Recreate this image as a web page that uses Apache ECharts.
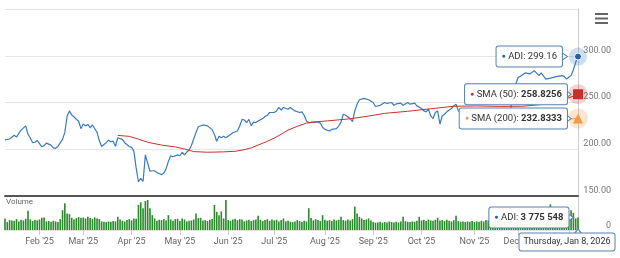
<!DOCTYPE html>
<html><head><meta charset="utf-8">
<script src="https://cdn.jsdelivr.net/npm/echarts@6/dist/echarts.min.js"></script>
<style>html,body{margin:0;padding:0;background:#fff}#c{width:620px;height:258px}</style>
</head><body><div id="c"></div>
<script>
// ---- data ----
const START = '2025-01-10', END = '2026-01-08';
const HOLIDAYS = ['2025-01-20','2025-02-17','2025-04-18','2025-05-26','2025-06-19','2025-07-04','2025-09-01','2025-11-27','2025-12-25','2026-01-01'];
const MONTHS = ['Jan','Feb','Mar','Apr','May','Jun','Jul','Aug','Sep','Oct','Nov','Dec'];
const WEEKDAYS = ['Sunday','Monday','Tuesday','Wednesday','Thursday','Friday','Saturday'];
const Y_TICKS = [150, 200, 250, 300, 350];

// ADI close, sampled on trading-day index
const PRICE_DAY = [0,2,4,5,6,7,9,10,11,12,13,14,16,17,18,20,21,22,23,25,26,27,28,29,30,31,32,33,34,35,36,37,38,40,41,42,43,44,45,46,47,48,49,51,52,54,55,56,57,58,59,60,61,62,63,64,65,66,67,68,69,70,71,72,73,75,76,77,78,79,80,81,82,83,84,86,88,90,91,92,93,94,95,96,98,99,101,102,103,104,105,106,107,108,109,110,112,113,114,115,117,118,119,120,121,123,124,125,126,128,129,130,131,132,134,135,136,137,138,139,141,142,144,145,146,147,148,150,151,152,153,154,156,158,160,161,163,165,166,168,169,170,172,173,175,176,178,179,181,182,183,184,185,186,187,188,189,190,191,192,194,195,196,197,199,201,203,205,207,209,211,213,215,217,219,220,221,222,223,224,226,228,230,232,233,235,237,240,242,243,244,245,246,247,248,249];
const PRICE = [210,211,215,213,217,220.5,225,216,212,207,207.5,209.4,202.6,204,206.5,204.4,201.5,201,203,210.5,218,235.6,241,236.7,234.5,232,230,222,227,225,226.6,223,226,218,209,203,205,207,209.8,208,208.7,203,212.3,210.5,207,203,202,198,180,165,169,165.5,194,185,176.5,177,177,175,174,172.7,174.5,179,187,193,192,194,193,196.8,194,197,199,204,211,218,224,226,225,221,215.8,208.6,214,212.3,214,212.3,215.8,217.7,219.5,224.8,232,231.3,228.5,232,225,229,228.5,230.2,232.8,235,236.4,239.3,239.3,241,244.7,242,244.7,242.8,244.7,242.8,241,239.3,240,236.4,230.2,228.5,229,229,229,228,223.5,221.2,219.5,221.2,222,224.8,229,237.4,236.4,232.8,229.5,241,248.2,252.9,254.4,252.9,250,245.7,247,250,249,250,247,248.5,249.3,247,250,248.2,249.3,246.4,243.6,241,240,242.8,235.6,232.8,239.3,241,227,235.6,237.4,240,243.6,246.4,248.2,241,238,240,236,238,234,236,232,230,228,231,236,247,264,270,277,278,281.6,280.6,284,278.8,281.6,275,276,278,278.8,278,275,277,279,285,293,299.16];

const SMA50_DAY = [49,54,58,62,68,74,78,82,88,95,100,104,107,110,114,117,120,123,127,131,135,140,150,158,165,175,185,195,205,215,225,233,240,244,249];
const SMA50 = [214.8,213.8,210.8,207.5,204.5,202.5,200.3,197.5,196.8,197.2,197.8,199.5,201.5,204.5,208.5,212.0,216.0,220.5,224.5,228.0,229.3,230.3,232.6,235.5,238.4,240.6,243.3,246.0,246.3,245.8,246.0,247.8,251.5,254.0,258.8256];

const SMA200_DAY = [199,210,220,230,240,249];
const SMA200 = [226.0,227.3,228.8,230.4,231.8,232.8333];

// Volume in millions per trading day (last one exact)
const VOLUME_M = [
3.5,2.4,3.0,2.9,2.8,3.3,2.6,3.1,2.9,3.4,
5.8,3.2,2.7,3.0,2.9,3.2,3.7,3.8,2.6,2.7,
2.5,2.8,2.6,2.4,3.3,6.0,8.1,5.0,4.8,3.7,
3.2,3.6,3.9,3.7,3.8,3.5,4.0,3.6,3.4,3.8,
3.5,3.3,2.6,2.5,2.4,2.6,2.5,2.7,2.6,4.0,
3.2,2.8,2.6,3.0,3.3,2.9,3.5,3.4,7.6,8.4,
6.6,8.8,9.1,6.6,4.5,3.5,2.8,3.1,3.0,3.3,
2.9,4.5,3.2,2.8,3.3,3.4,2.7,3.5,3.2,2.6,
2.8,2.9,3.2,5.0,3.6,3.7,2.9,3.0,2.7,3.1,
3.3,7.6,5.5,4.5,5.6,3.5,9.1,3.0,2.8,3.2,
3.4,3.0,3.3,3.2,2.6,2.9,3.1,2.7,3.0,3.2,
4.3,3.1,2.7,3.0,3.3,2.8,3.2,2.9,3.1,2.6,
3.0,3.5,2.6,2.8,2.5,2.4,2.6,3.0,2.7,2.5,
2.8,2.6,6.6,3.6,2.9,3.3,3.0,2.7,4.5,3.1,
2.8,3.0,2.7,3.2,2.9,3.1,4.0,3.0,2.8,3.2,
2.9,3.3,7.1,5.0,4.0,3.5,3.0,3.2,3.5,2.9,
2.4,2.2,2.3,2.5,2.2,2.4,2.3,2.6,2.4,2.3,
2.5,2.3,2.6,4.0,2.7,2.5,2.4,2.6,2.5,2.8,
4.0,2.9,3.0,2.7,3.2,2.9,2.8,3.1,3.7,2.9,
3.0,2.7,3.1,2.8,2.6,3.0,4.3,2.7,2.5,2.6,
2.4,2.6,2.5,2.7,2.4,2.6,2.5,2.8,2.6,3.0,
2.9,3.1,2.8,3.2,3.0,3.4,3.1,2.9,3.6,4.5,
6.8,5.0,3.5,3.2,3.0,2.8,3.3,3.1,2.9,3.2,
3.0,3.4,2.8,3.1,3.5,3.0,3.3,7.8,3.2,2.9,
2.7,2.4,2.6,2.9,3.0,3.4,6.0,5.2,3.5,3.775548];

// ---- derived ----
const DATES = [];
for (let d = new Date(START + 'T00:00:00Z'); d <= new Date(END + 'T00:00:00Z'); d.setUTCDate(d.getUTCDate() + 1)) {
  const s = d.toISOString().slice(0, 10), wd = d.getUTCDay();
  if (wd === 0 || wd === 6 || HOLIDAYS.includes(s)) continue;
  DATES.push(s);
}
const LAST = DATES.length - 1;
const VOLUME = VOLUME_M.map(v => Math.round(v * 1e6));
const monthStart = i => i > 0 && DATES[i].slice(5, 7) !== DATES[i - 1].slice(5, 7);
const monthLabel = s => MONTHS[+s.slice(5, 7) - 1] + " '" + s.slice(2, 4);
const thousands = n => String(n).replace(/\B(?=(\d{3})+(?!\d))/g, ' ');
const lastDate = new Date(DATES[LAST] + 'T00:00:00Z');
const dateText = WEEKDAYS[lastDate.getUTCDay()] + ', ' + MONTHS[lastDate.getUTCMonth()] + ' ' + lastDate.getUTCDate() + ', ' + lastDate.getUTCFullYear();

const C_ADI = '#3a7bbf', C_ADI_DOT = '#1f63ad', C_S50 = '#c9302c', C_S200 = '#f39a45', C_VOL = '#2a8a2a';
const BOX_BORDER = '#5b84b1';
const F = 'Roboto, "Liberation Sans", Arial, sans-serif';

function boxLabel(extra) {
  return Object.assign({
    show: true, position: 'left', distance: 8,
    backgroundColor: 'rgba(255,255,255,0.94)', borderColor: BOX_BORDER, borderWidth: 1, borderRadius: 2,
    padding: [4, 5, 4, 5], fontSize: 9.5, color: '#333', fontFamily: F,
    rich: {
      dA: { fontSize: 7, lineHeight: 12, color: C_ADI_DOT },
      dR: { fontSize: 7, lineHeight: 12, color: C_S50 },
      dO: { fontSize: 7, lineHeight: 12, color: C_S200 },
      t: { fontSize: 9.5, lineHeight: 12, color: '#333', fontFamily: F },
      d9: { fontSize: 9, lineHeight: 11, color: '#333', fontFamily: F },
      b: { fontSize: 9.5, lineHeight: 12, color: '#333', fontWeight: 'bold', fontFamily: F }
    }
  }, extra);
}
const lastOf = (days, vals) => [days[days.length - 1], vals[vals.length - 1]];
const pA = lastOf(PRICE_DAY, PRICE), p50 = lastOf(SMA50_DAY, SMA50), p200 = lastOf(SMA200_DAY, SMA200);
const pV = [LAST, VOLUME[LAST]], p0 = [LAST, 0];

// callout geometry: marker half size + label distance
const CALL = { A: { half: 3.5, dist: 12 }, S50: { half: 5, dist: 6 }, S200: { half: 5, dist: 6 }, V: { half: 0.5, dist: 9 } };
const ARROW_R = 'path://M0,0L10,5L0,10';
const ARROW_U = 'path://M0,10L5,0L10,10';
function arrowRight(coord, c, len) {
  const edge = c.half + c.dist;
  return { coord, symbol: ARROW_R, symbolSize: [len, 8], symbolKeepAspect: false,
    symbolOffset: [-(edge + 1) + len / 2, 0],
    itemStyle: { color: '#fff', borderColor: BOX_BORDER, borderWidth: 1 }, label: { show: false } };
}

const chart = echarts.init(document.getElementById('c'), null, { renderer: 'canvas' });
chart.setOption({
  animation: false,
  textStyle: { fontFamily: F },
  grid: [
    { left: 5, right: 42, top: 9, height: 187 },
    { left: 5, right: 42, top: 197, height: 33 }
  ],
  xAxis: [
    { type: 'category', gridIndex: 0, data: DATES, boundaryGap: false,
      axisLine: { show: true, lineStyle: { color: '#555', width: 2 } },
      axisTick: { show: false }, axisLabel: { show: false }, splitLine: { show: false } },
    { type: 'category', gridIndex: 1, data: DATES, boundaryGap: false,
      axisLine: { show: true, lineStyle: { color: '#e0e0e0', width: 1 } },
      axisTick: { show: true, length: 5, interval: i => monthStart(i), lineStyle: { color: '#ccc' } },
      axisLabel: { show: true, interval: i => monthStart(i), formatter: v => monthLabel(v), fontSize: 9, color: '#666', margin: 7, fontFamily: F },
      splitLine: { show: false } }
  ],
  yAxis: [
    { type: 'value', gridIndex: 0, position: 'right', min: Y_TICKS[0], max: Y_TICKS[Y_TICKS.length - 1], interval: 50,
      axisLine: { show: true, lineStyle: { color: '#ccc' } }, axisTick: { show: false },
      splitLine: { show: true, lineStyle: { color: '#e6e6e6' } },
      axisLabel: { formatter: v => (v === Y_TICKS[Y_TICKS.length - 1] ? '' : v.toFixed(2)), align: 'right', margin: 33, verticalAlign: 'bottom', padding: [0, 0, 1, 0], fontSize: 9, color: '#777', fontFamily: F } },
    { type: 'value', gridIndex: 1, position: 'right', min: 0, max: 1e7, interval: 1e7,
      axisLine: { show: true, lineStyle: { color: '#ccc' } }, axisTick: { show: false }, splitLine: { show: false },
      axisLabel: { formatter: v => (v === 0 ? '0' : ''), align: 'right', margin: 33, verticalAlign: 'bottom', fontSize: 9, color: '#777', fontFamily: F } }
  ],
  graphic: [
    { type: 'text', left: 6, top: 198, style: { text: 'Volume', fontSize: 8, fill: '#666', fontFamily: F } },
    { type: 'rect', shape: { x: 595, y: 13, width: 13, height: 2 }, style: { fill: '#666' } },
    { type: 'rect', shape: { x: 595, y: 17.5, width: 13, height: 2 }, style: { fill: '#666' } },
    { type: 'rect', shape: { x: 595, y: 22, width: 13, height: 2 }, style: { fill: '#666' } }
  ],
  series: [
    { name: 'ADI', type: 'line', xAxisIndex: 0, yAxisIndex: 0, z: 2,
      data: PRICE_DAY.map((d, k) => [d, PRICE[k]]), showSymbol: false,
      lineStyle: { color: C_ADI, width: 1.2 }, itemStyle: { color: C_ADI },
      markPoint: { animation: false, data: [
        { coord: pA, symbol: 'circle', symbolSize: 18, itemStyle: { color: 'rgba(58,123,191,0.25)' }, label: { show: false } },
        { coord: pA, symbol: 'circle', symbolSize: 7, itemStyle: { color: C_ADI_DOT, borderColor: '#fff', borderWidth: 1 },
          label: boxLabel({ distance: CALL.A.dist, formatter: '{dA|●} {t|ADI: ' + pA[1].toFixed(2) + '}' }) }
      ] } },
    { name: 'SMA (50)', type: 'line', xAxisIndex: 0, yAxisIndex: 0, z: 3,
      data: SMA50_DAY.map((d, k) => [d, SMA50[k]]), showSymbol: false,
      lineStyle: { color: C_S50, width: 1 }, itemStyle: { color: C_S50 },
      markPoint: { animation: false, data: [
        { coord: p50, symbol: 'circle', symbolSize: 20, itemStyle: { color: 'rgba(201,48,44,0.22)' }, label: { show: false } },
        { coord: p50, symbol: 'rect', symbolSize: 10, itemStyle: { color: C_S50 },
          label: boxLabel({ distance: CALL.S50.dist, formatter: '{dR|●} {t|SMA (50): }{b|' + p50[1].toFixed(4) + '}' }) }
      ] } },
    { name: 'SMA (200)', type: 'line', xAxisIndex: 0, yAxisIndex: 0, z: 4,
      data: SMA200_DAY.map((d, k) => [d, SMA200[k]]), showSymbol: false,
      lineStyle: { color: C_S200, width: 1 }, itemStyle: { color: C_S200 },
      markPoint: { animation: false, data: [
        { coord: p200, symbol: 'circle', symbolSize: 20, itemStyle: { color: 'rgba(243,154,69,0.25)' }, label: { show: false } },
        { coord: p200, symbol: 'triangle', symbolSize: 10, itemStyle: { color: C_S200 },
          label: boxLabel({ distance: CALL.S200.dist, formatter: '{dO|●} {t|SMA (200): }{b|' + p200[1].toFixed(4) + '}' }) }
      ] } },
    { name: 'Volume', type: 'bar', xAxisIndex: 1, yAxisIndex: 1, z: 2,
      data: VOLUME, barWidth: '70%', itemStyle: { color: C_VOL },
      markPoint: { animation: false, data: [
        { coord: pV, symbol: 'rect', symbolSize: 1, itemStyle: { color: 'rgba(0,0,0,0)' },
          label: boxLabel({ distance: CALL.V.dist, formatter: '{dA|●} {t|ADI: }{b|' + thousands(VOLUME[LAST]) + '}' }) },
        { coord: p0, symbol: 'rect', symbolSize: 1, itemStyle: { color: 'rgba(0,0,0,0)' },
          label: boxLabel({ position: 'bottom', distance: 3, offset: [-11, 0], padding: [3, 4, 3, 4], formatter: '{d9|' + dateText + '}' }) }
      ] } },
    // callout arrows (drawn above the boxes)
    { name: 'arrowsPrice', type: 'line', xAxisIndex: 0, yAxisIndex: 0, z: 6, data: [pA], showSymbol: false, lineStyle: { opacity: 0 },
      markPoint: { animation: false, data: [ arrowRight(pA, CALL.A, 6), arrowRight(p50, CALL.S50, 5), arrowRight(p200, CALL.S200, 5) ] } },
    { name: 'arrowsVol', type: 'line', xAxisIndex: 1, yAxisIndex: 1, z: 6, data: [pV], showSymbol: false, lineStyle: { opacity: 0 },
      markPoint: { animation: false, data: [
        arrowRight(pV, CALL.V, 6),
        { coord: p0, symbol: ARROW_U, symbolSize: [8, 5], symbolKeepAspect: false, symbolOffset: [0, 1.5],
          itemStyle: { color: '#fff', borderColor: BOX_BORDER, borderWidth: 1 }, label: { show: false } }
      ] } }
  ]
});
</script></body></html>
